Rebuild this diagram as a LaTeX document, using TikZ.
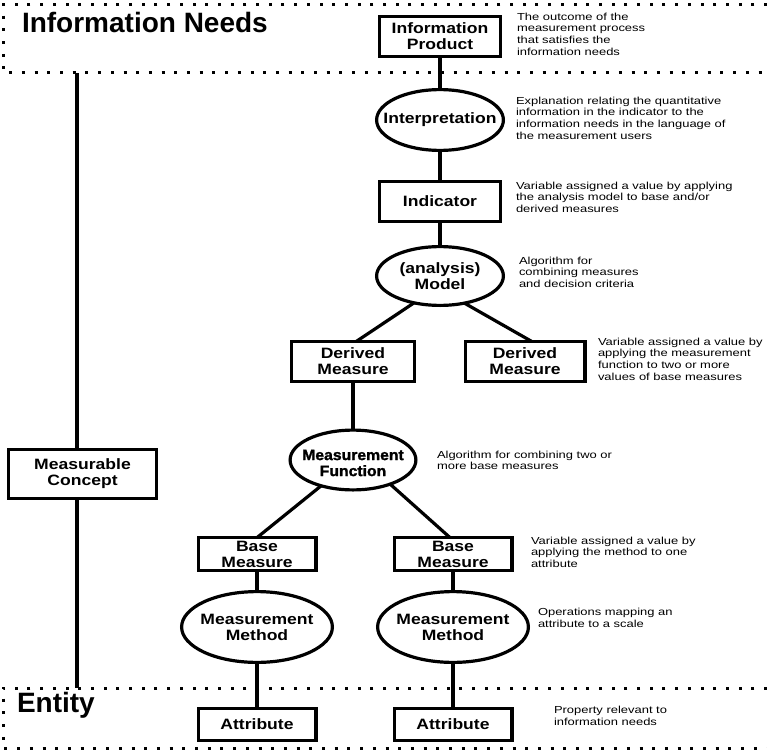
\documentclass[tikz,border=0pt]{standalone}
\usepackage{fontspec}
\setmainfont{Liberation Sans}
\newfontfamily\labelfont{Liberation Sans}[FakeStretch=1.17]
\newfontfamily\heavyfont{Liberation Sans}[FakeStretch=1.05,FakeBold=1.5]
\newfontfamily\notefont{Liberation Sans}[FakeStretch=1.27]
\usetikzlibrary{shapes.geometric}
\begin{document}
\begin{tikzpicture}[x=1pt,y=-1pt,
  every node/.style={inner sep=0pt, outer sep=0pt},
  stroke/.style={line width=3.2pt},
  box/.style={stroke, draw, rectangle, align=center,
    font=\labelfont\bfseries\fontsize{15}{16}\selectfont},
  oval/.style={stroke, draw, ellipse},
  lbl/.style={align=center, font=\labelfont\bfseries\fontsize{15}{16}\selectfont},
  heavylbl/.style={align=center, font=\heavyfont\bfseries\fontsize{15}{16}\selectfont},
  note/.style={anchor=north west, align=left,
    font=\notefont\fontsize{10.2}{11.6}\selectfont},
  heading/.style={anchor=base west, font=\bfseries\fontsize{28}{30}\selectfont},
  band/.style={line width=3pt, dash pattern=on 3pt off 9.7pt},
  conn/.style={stroke},
]
% canvas
\useasboundingbox (0,0) rectangle (767,754);
\fill[white] (0,0) rectangle (767,754);

% dotted bands for the two levels
\draw[band] (767,5) -- (3,5) -- (3,73) -- (767,73);
\draw[band] (767,688) -- (3,688) -- (3,748) -- (767,748);
\node[heading] (needs) at (22,33) {Information Needs};
\node[heading] (entity) at (17,712) {Entity};

% measurable concept on the left
\coordinate (needsedge) at (77,73);
\coordinate (entityedge) at (77,688);
\node[box, minimum width=147.8pt, minimum height=48.8pt] (mc) at (82.5,474) {Measurable\\Concept};
\draw[conn, line width=4pt] (mc.north -| needsedge) -- (needsedge);
\draw[conn, line width=4pt] (mc.south -| entityedge) -- (entityedge);

% main chain
\node[box, minimum width=120.8pt, minimum height=39.8pt] (ip) at (440,36.5) {Information\\Product};
\node[oval, minimum width=126.8pt, minimum height=60.8pt] (interp) at (440,120) {};
\node[lbl] at (interp) {Interpretation};
\node[box, minimum width=120.8pt, minimum height=39.8pt] (ind) at (440,201.5) {Indicator};
\node[oval, minimum width=126.8pt, minimum height=58.8pt] (model) at (440,276) {};
\node[lbl] at (model) {(analysis)\\Model};

\node[box, minimum width=122.8pt, minimum height=39.8pt] (dml) at (353,361.5) {Derived\\Measure};
\node[box, minimum width=119.8pt, minimum height=39.8pt] (dmr) at (525,361.5) {Derived\\Measure};
\node[oval, minimum width=125.8pt, minimum height=59.8pt] (mf) at (353,460) {};
\node[heavylbl] at ([yshift=-3pt]mf.center) {Measurement\\Function};

\node[box, minimum width=117.8pt, minimum height=32.8pt] (bml) at (257,554) {Base\\Measure};
\node[box, minimum width=117.8pt, minimum height=32.8pt] (bmr) at (453,554) {Base\\Measure};
\node[oval, minimum width=150.8pt, minimum height=70.8pt] (mml) at (257,627) {};
\node[lbl] at (mml) {Measurement\\Method};
\node[oval, minimum width=150.8pt, minimum height=70.8pt] (mmr) at (453,627) {};
\node[lbl] at (mmr) {Measurement\\Method};
\node[box, minimum width=117.8pt, minimum height=31.8pt] (attl) at (257,724.5) {Attribute};
\node[box, minimum width=117.8pt, minimum height=31.8pt] (attr) at (453,724.5) {Attribute};

% connectors
\draw[conn] (ip) -- (interp);
\draw[conn] (interp) -- (ind);
\draw[conn] (ind) -- (model);
\draw[conn] (model.226) -- ([xshift=3pt]dml.north);
\draw[conn] (model.312) -- ([xshift=7pt]dmr.north);
\draw[conn] (dml) -- (mf);
\draw[conn] (mf.219) -- (bml.north);
\draw[conn] (mf.327) -- ([xshift=-3pt]bmr.north);
\draw[conn] (bml) -- (mml);
\draw[conn] (bmr) -- (mmr);
\draw[conn] (mml) -- (attl);
\draw[conn] (mmr) -- (attr);

% definitions
\node[note] (ipnote) at (517,13) {The outcome of the\\measurement process\\that satisfies the\\information needs};
\node[note] (interpnote) at (516,97) {Explanation relating the quantitative\\information in the indicator to the\\information needs in the language of\\the measurement users};
\node[note] (indnote) at (516,182) {Variable assigned a value by applying\\the analysis model to base and/or\\derived measures};
\node[note] (modelnote) at (519,257) {Algorithm for\\combining measures\\and decision criteria};
\node[note] (dmnote) at (598,338) {Variable assigned a value by\\applying the measurement\\function to two or more\\values of base measures};
\node[note] (mfnote) at (437,451) {Algorithm for combining two or\\more base measures};
\node[note] (bmnote) at (531,537) {Variable assigned a value by\\applying the method to one\\attribute};
\node[note] (mmnote) at (538,608) {Operations mapping an\\attribute to a scale};
\node[note] (attnote) at (554,706) {Property relevant to\\information needs};
\end{tikzpicture}
\end{document}
